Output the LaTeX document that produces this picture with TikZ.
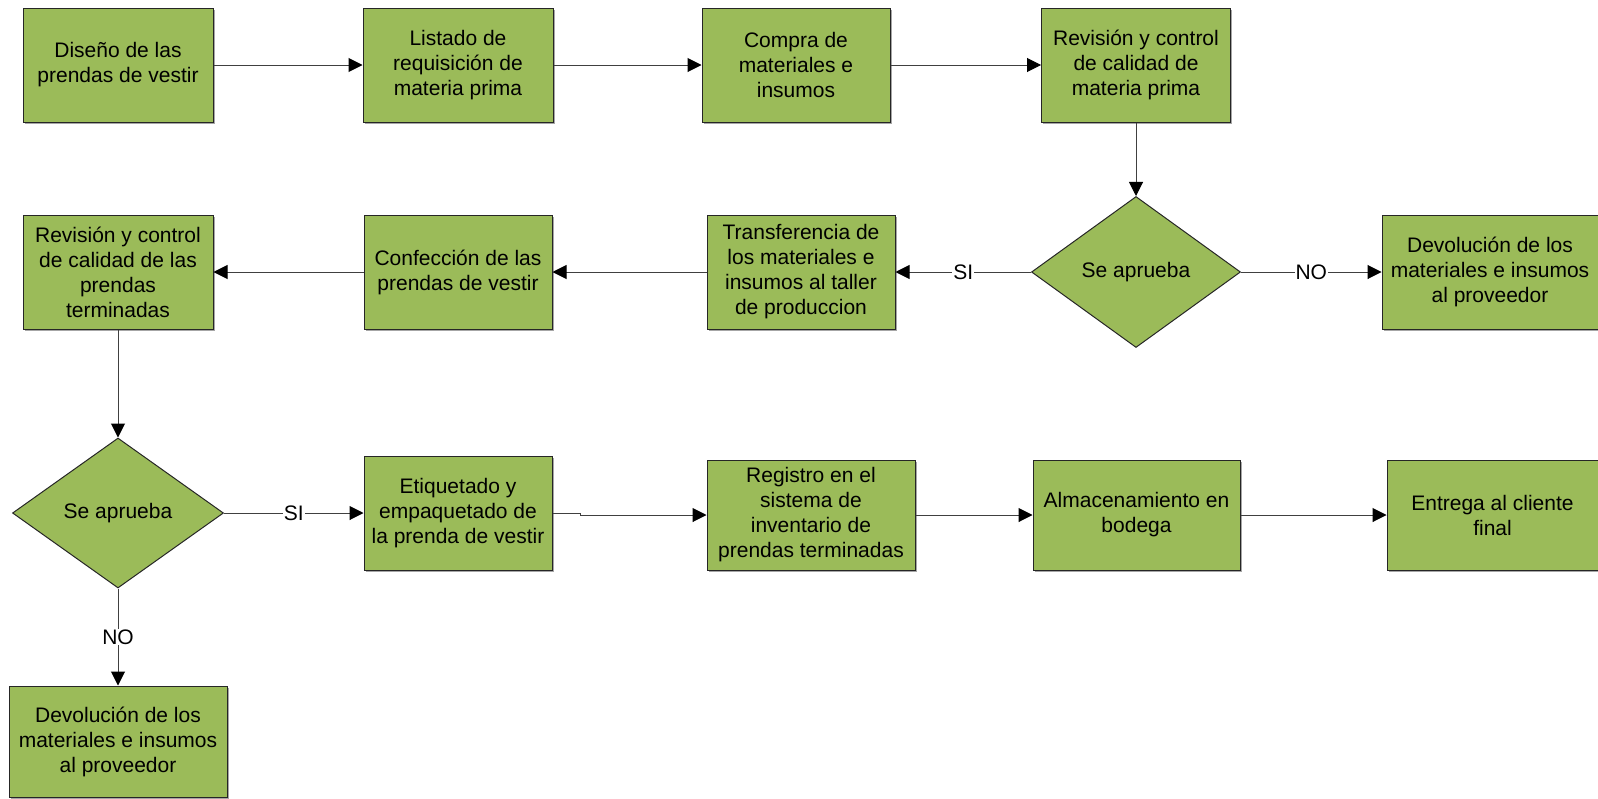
\documentclass[tikz,border=0pt]{standalone}
\usepackage{fontspec}
\setmainfont{Liberation Sans}
\usetikzlibrary{shapes.geometric,arrows.meta,shadows}
\definecolor{boxgreen}{HTML}{9BBB59}
\definecolor{edgegray}{HTML}{404040}
\begin{document}
\begin{tikzpicture}[x=1pt,y=-1pt,
  every node/.style={font=\fontsize{21}{25}\selectfont},
  proc/.style={rectangle, draw=black!85, line width=1pt, fill=boxgreen,
    align=center, inner sep=2pt, minimum width=188pt, minimum height=114pt,
    drop shadow={shadow xshift=1.5pt, shadow yshift=-1.5pt, fill=black!35, opacity=1}},
  decide/.style={diamond, draw=black!85, line width=1pt, fill=boxgreen,
    inner sep=0pt, aspect=1.38, minimum width=209pt, minimum height=151pt},
  conn/.style={draw=edgegray, line width=1pt,
    -{Triangle[length=14pt,width=14pt,color=black]}},
  lbl/.style={fill=white, inner sep=1pt}
]
\useasboundingbox (0,0) rectangle (1598,798);

% first row
\node[proc, minimum width=190pt] (b1) at (118,65) {Diseño de las\\prendas de vestir};
\node[proc, minimum width=190pt] (b2) at (458,65) {Listado de\\requisición de\\materia prima};
\node[proc] (b3) at (796,65) {Compra de\\materiales e\\insumos};
\node[proc, minimum width=189pt] (b4) at (1136,65) {Revisión y control\\de calidad de\\materia prima};

% second row
\node[decide] (d1) at (1136,272) {Se aprueba};
\node[proc, minimum width=216pt] (dev1) at (1490,272) {Devolución de los\\materiales e insumos\\al proveedor};
\node[proc] (trans) at (801,272) {Transferencia de\\los materiales e\\insumos al taller\\de produccion};
\node[proc] (conf) at (458,272) {Confección de las\\prendas de vestir};
\node[proc, minimum width=190pt] (rev2) at (118,272) {Revisión y control\\de calidad de las\\prendas\\terminadas};

% third row
\node[decide, minimum width=211pt, minimum height=150pt] (d2) at (118,513) {Se aprueba};
\node[proc] (etiq) at (458,513) {Etiquetado y\\empaquetado de\\la prenda de vestir};
\node[proc, minimum width=208pt, minimum height=110pt] (reg) at (811,515) {Registro en el\\sistema de\\inventario de\\prendas terminadas};
\node[proc, minimum width=207pt, minimum height=110pt] (alm) at (1136.5,515) {Almacenamiento en\\bodega};
\node[proc, minimum width=211pt, minimum height=110pt] (ent) at (1492.5,515) {Entrega al cliente\\final};

% rejected garments
\node[proc, minimum width=218pt, minimum height=111pt] (dev2) at (118,741.5) {Devolución de los\\materiales e insumos\\al proveedor};

% connectors
\draw[conn] (b1) -- (b2);
\draw[conn] (b2) -- (b3);
\draw[conn] (b3) -- (b4);
\draw[conn] (b4) -- (d1);
\draw[conn] (d1.west) -- node[lbl]{SI} (trans.east);
\draw[conn] (d1.east) -- node[lbl]{NO} (dev1.west);
\draw[conn] (trans) -- (conf);
\draw[conn] (conf) -- (rev2);
\draw[conn] (rev2) -- (d2);
\draw[conn] (d2.east) -- node[lbl]{SI} (etiq.west);
\draw[conn] (d2.south) -- node[lbl]{NO} (dev2.north);
\draw[conn] (etiq.east) -- ++(28,0) |- (reg.west);
\draw[conn] (reg) -- (alm);
\draw[conn] (alm) -- (ent);
\end{tikzpicture}
\end{document}
